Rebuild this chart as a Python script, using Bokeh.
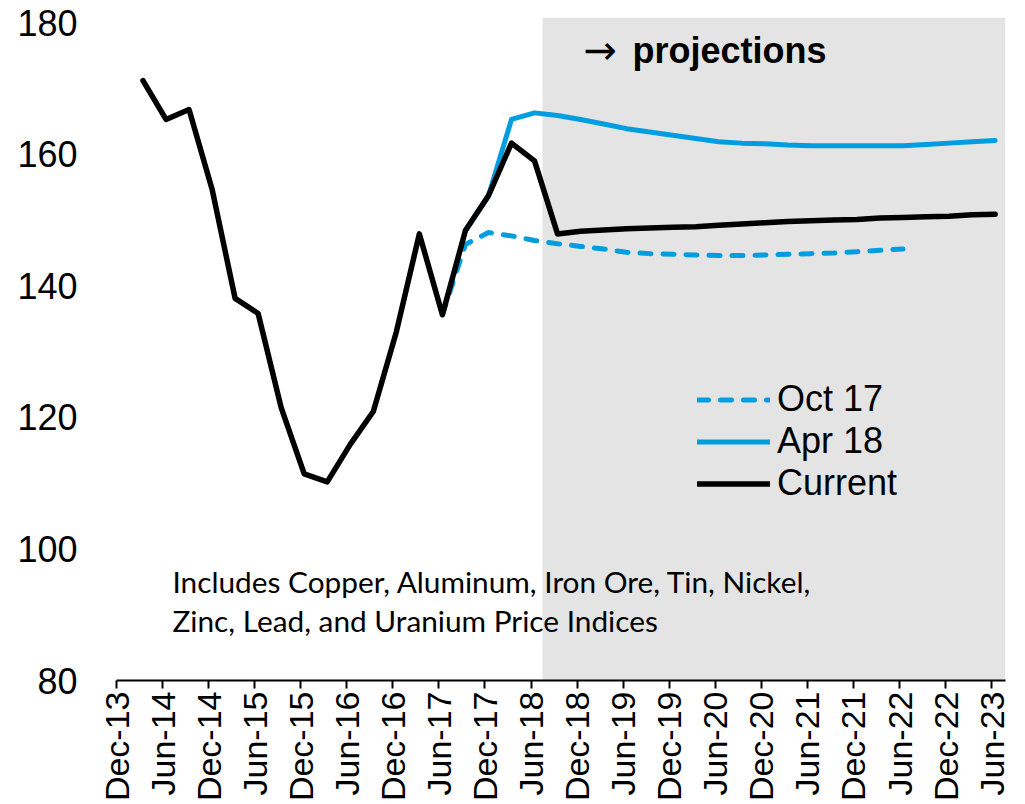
import math
from bokeh.plotting import figure
from bokeh.models import BoxAnnotation, Label, Legend, LegendItem, FixedTicker
from bokeh.embed import file_html
from bokeh.resources import INLINE

# x: quarters after Dec-13 (1 = Mar-14 ... 38 = Jun-23)
tick_labels = ["Dec-13", "Jun-14", "Dec-14", "Jun-15", "Dec-15", "Jun-16", "Dec-16",
               "Jun-17", "Dec-17", "Jun-18", "Dec-18", "Jun-19", "Dec-19", "Jun-20",
               "Dec-20", "Jun-21", "Dec-21", "Jun-22", "Dec-22", "Jun-23"]

current_start = 1
current = [171.2, 165.3, 166.8, 154.7, 138.1, 135.8, 121.5, 111.4, 110.2, 115.9,
           120.9, 133.0, 147.9, 135.6, 148.4, 153.7, 161.7, 159.0,
           147.9, 148.3, 148.5, 148.7, 148.8, 148.9, 149.0, 149.2, 149.4, 149.6,
           149.8, 149.9, 150.0, 150.1, 150.3, 150.4, 150.5, 150.6, 150.8, 150.9]

apr18_start = 15
apr18 = [148.4, 153.7, 165.3, 166.3,
         165.9, 165.3, 164.6, 163.9, 163.4, 162.9, 162.4, 161.9, 161.7, 161.6,
         161.4, 161.3, 161.3, 161.3, 161.3, 161.3, 161.5, 161.7, 161.9, 162.1]

oct17_start = 14
oct17 = [135.6, 146.3, 148.1, 147.6, 146.9, 146.4, 146.0, 145.6, 145.1, 144.9,
         144.8, 144.7, 144.6, 144.6, 144.7, 144.8, 144.9, 145.0, 145.2, 145.4, 145.6]

projection_start = 18.5
XOFF = 0.15

BLUE = "#009EE0"
FONT = "Liberation Sans"


def xs(start, vals):
    return [start + i + XOFF for i in range(len(vals))]


p = figure(width=1018, height=804, output_backend="svg", toolbar_location=None,
           x_range=(0, 38.6), y_range=(80, 180.8),
           min_border_left=116, min_border_right=13, min_border_top=17, min_border_bottom=119)
p.outline_line_color = None
p.xgrid.visible = False
p.ygrid.visible = False
p.background_fill_color = "white"

p.add_layout(BoxAnnotation(left=projection_start, fill_color="#E4E4E4", fill_alpha=1.0,
                           line_color=None, level="underlay"))

r_oct = p.line(xs(oct17_start, oct17), oct17, line_color=BLUE, line_width=5,
               line_dash="11 12", line_cap="round")
r_apr = p.line(xs(apr18_start, apr18), apr18, line_color=BLUE, line_width=5,
               line_join="round", line_cap="round")
r_cur = p.line(xs(current_start, current), current, line_color="black", line_width=5.5,
               line_join="round", line_cap="round")

# axes
p.yaxis.ticker = FixedTicker(ticks=[80, 100, 120, 140, 160, 180])
p.yaxis.axis_line_color = None
p.yaxis.major_tick_line_color = None
p.yaxis.minor_tick_line_color = None
p.yaxis.major_label_standoff = 33
p.yaxis.major_label_text_font = FONT
p.yaxis.major_label_text_font_size = "36px"
p.yaxis.major_label_text_color = "black"

tick_pos = [2 * i for i in range(len(tick_labels))]
p.xaxis.ticker = FixedTicker(ticks=tick_pos)
p.xaxis.major_label_overrides = {t: l for t, l in zip(tick_pos, tick_labels)}
p.xaxis.major_label_orientation = math.pi / 2
p.xaxis.axis_line_color = "black"
p.xaxis.axis_line_width = 2
p.xaxis.major_tick_line_color = "black"
p.xaxis.major_tick_line_width = 2
p.xaxis.major_tick_in = 0
p.xaxis.major_tick_out = 8
p.xaxis.minor_tick_line_color = None
p.xaxis.major_label_standoff = 3
p.xaxis.major_label_text_font = FONT
p.xaxis.major_label_text_font_size = "34px"
p.xaxis.major_label_text_color = "black"

# texts
p.add_layout(Label(x=20.28, y=175.8, text="\u2192", text_font="DejaVu Sans",
                   text_font_size="40px", text_color="black",
                   text_baseline="middle", text_align="left"))
p.add_layout(Label(x=22.4, y=175.8, text="projections", text_font=FONT,
                   text_font_size="36px", text_font_style="bold", text_color="black",
                   text_baseline="middle", text_align="left"))
p.add_layout(Label(x=2.43, y=95.1, text="Includes Copper, Aluminum, Iron Ore, Tin, Nickel,",
                   text_font="Lato", text_font_size="29.8px", text_color="black",
                   text_baseline="middle", text_align="left"))
p.add_layout(Label(x=2.43, y=89.05, text="Zinc, Lead, and Uranium Price Indices",
                   text_font="Lato", text_font_size="29.8px", text_color="black",
                   text_baseline="middle", text_align="left"))

legend = Legend(items=[LegendItem(label="Oct 17", renderers=[r_oct]),
                       LegendItem(label="Apr 18", renderers=[r_apr]),
                       LegendItem(label="Current", renderers=[r_cur])],
                location=(581, 176), orientation="vertical",
                glyph_width=73, glyph_height=41, label_height=41, label_standoff=7,
                spacing=0, padding=0, margin=0,
                border_line_color=None, background_fill_alpha=0,
                label_text_font=FONT, label_text_font_size="36px", label_text_color="black")
p.add_layout(legend, "center")

open("out.html", "w").write(file_html(p, INLINE))
